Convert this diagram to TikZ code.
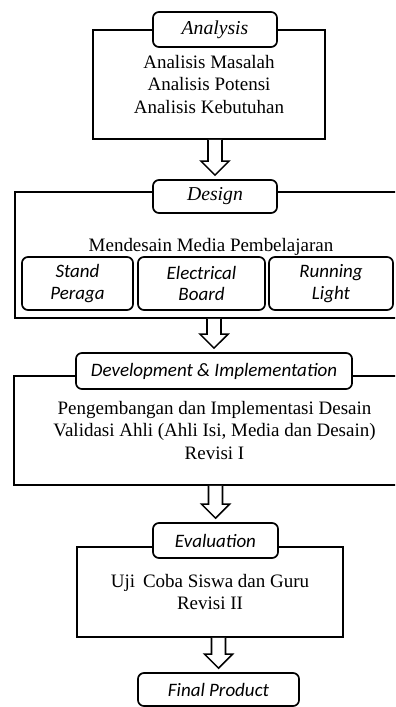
\documentclass[tikz,border=0pt]{standalone}
\usepackage{fontspec}
\setmainfont{Liberation Serif}
\newfontfamily\calib{Carlito}
\usetikzlibrary{calc}

\begin{document}
\begin{tikzpicture}[x=0.025cm, y=-0.025cm,
  frame/.style={draw, line width=1.2pt, fill=white, inner sep=0pt, align=center, font=\fontsize{13.5}{16.3}\selectfont},
  tab/.style={draw, line width=1.2pt, fill=white, rounded corners=0.15cm, inner sep=0pt, minimum height=0.875cm, font=\calib\itshape\fontsize{13.5}{16}\selectfont},
  titletab/.style={tab, font=\itshape\fontsize{14}{16}\selectfont},
  part/.style={tab, align=center, minimum height=1.325cm, font=\calib\itshape\fontsize{13.5}{15.6}\selectfont},
  flow/.style={draw, line width=1.1pt, fill=white, to path={let \p1=(\tikztostart.south), \p2=(\tikztotarget.north) in
    (\x2-0.175cm,\y1) -- (\x2-0.175cm,\y2+0.45cm) -- (\x2-0.35cm,\y2+0.45cm) -- (\x2,\y2+0.1cm)
    -- (\x2+0.35cm,\y2+0.45cm) -- (\x2+0.175cm,\y2+0.45cm) -- (\x2+0.175cm,\y1)}}
]
\useasboundingbox (0,0) rectangle (395,707);
\clip (0,0) rectangle (395,707);

\node[frame, minimum width=5.8cm, minimum height=2.725cm] (anaBox) at (209,84.5) {Analisis Masalah\\Analisis Potensi\\Analisis Kebutuhan};
\node[titletab, minimum width=3.1cm] (anaTab) at (215,29.5) {Analysis};

\node[frame, minimum width=10cm, minimum height=3.15cm] (desBox) at (215,255) {};
\node[titletab, minimum width=3.1cm, minimum height=0.825cm] (desTab) at (215,196.5) {Design};
\node[font=\fontsize{13.5}{16.3}\selectfont, inner sep=0pt] (desText) at (211,247) {Mendesain Media Pembelajaran};
\node[part, minimum width=2.775cm] (stand) at (77.5,283.5) {Stand\\Peraga};
\node[part, minimum width=3.175cm] (board) at (201.5,283.5) {Electrical\\Board};
\node[part, minimum width=3.1cm] (light) at (331,283.5) {Running\\Light};

\node[frame, minimum width=10.025cm, minimum height=2.725cm] (devBox) at (214.5,430.5) {Pengembangan dan Implementasi Desain\\Validasi Ahli (Ahli Isi, Media dan Desain)\\Revisi I};
\node[tab, minimum width=6.9cm, minimum height=0.9cm] (devTab) at (214,371) {Development \& Implementation};

\node[frame, minimum width=6.65cm, minimum height=2.25cm] (evalBox) at (210,592) {Uji\, Coba Siswa dan Guru\\Revisi II};
\node[tab, minimum width=3.125cm] (evalTab) at (215.5,540.5) {Evaluation};

\node[tab, minimum width=4.025cm, minimum height=0.825cm] (finalTab) at (218.5,689.5) {Final Product};

\draw[flow] (anaBox) to (desTab);
\draw[flow] (desBox) to (devTab);
\draw[flow] (devBox) to (evalTab);
\draw[flow] (evalBox) to (finalTab);
\end{tikzpicture}
\end{document}
